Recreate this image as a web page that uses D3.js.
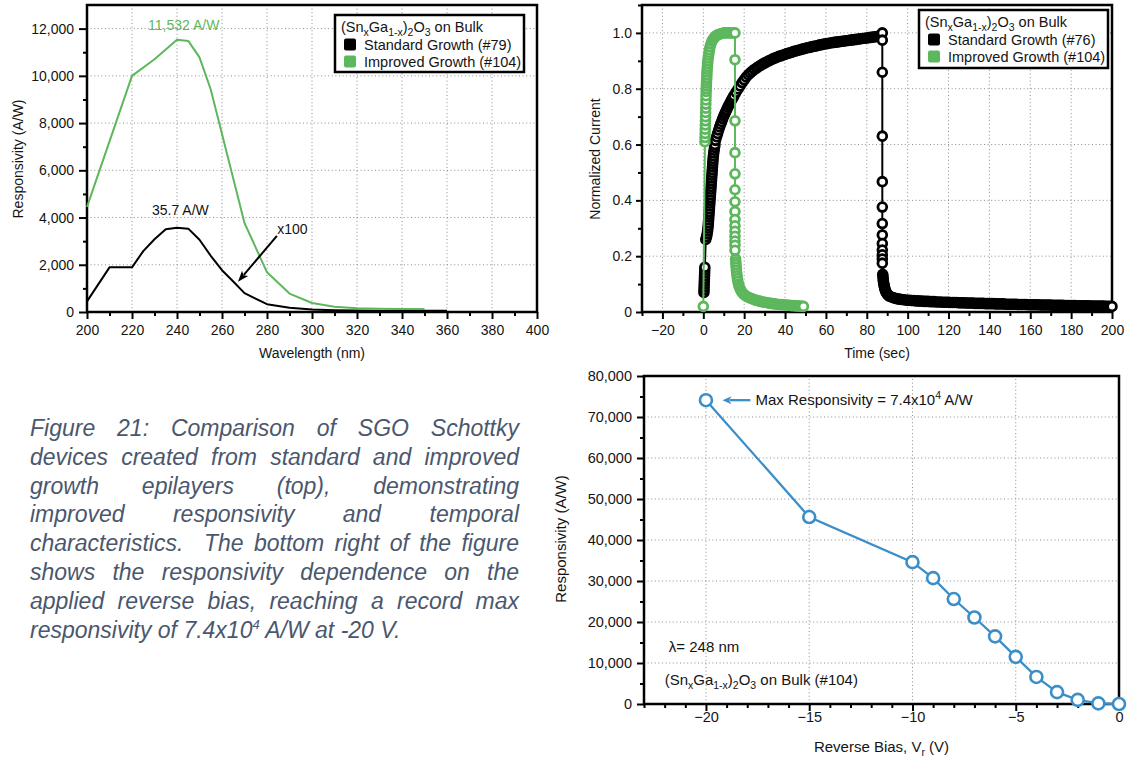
<!DOCTYPE html>
<html><head><meta charset="utf-8">
<script src="https://cdn.jsdelivr.net/npm/d3@7"></script>
<style>
body{margin:0;background:#fff;}
#wrap{position:relative;width:1129px;height:759px;overflow:hidden;background:#fff;}
#wrap svg{position:absolute;left:0;top:0;}
#caption{position:absolute;left:30px;top:414px;width:489px;font-family:"Liberation Sans",Arial,Helvetica,sans-serif;font-style:italic;font-size:23px;line-height:28.8px;color:#4a576e;}
#caption div{text-align:justify;text-align-last:justify;}
#caption div.last{text-align-last:left;}
#caption sup{font-size:13px;line-height:0;vertical-align:9px;}
</style></head>
<body>
<div id="wrap">
<div id="caption">
<div>Figure 21: Comparison of SGO Schottky</div>
<div>devices created from standard and improved</div>
<div>growth epilayers (top), demonstrating</div>
<div>improved responsivity and temporal</div>
<div>characteristics.&nbsp; The bottom right of the figure</div>
<div>shows the responsivity dependence on the</div>
<div>applied reverse bias, reaching a record max</div>
<div class="last">responsivity of 7.4x10<sup>4</sup> A/W at -20 V.</div>
</div>
</div>
<script>
// ---------------- DATA ----------------
// Panel 1: spectral responsivity
const wavelengthStandard = [200,210,220,225,230,235,240,245,250,255,260,265,270,280,290,300,310,320,330,340,350,360];
const responsivityStandardX100 = [450,1890,1890,2580,3080,3500,3570,3530,3060,2380,1770,1290,800,330,180,110,75,60,55,50,50,50];
const wavelengthImproved = [200,220,230,240,245,250,255,270,280,290,300,310,320,330,340,350];
const responsivityImproved = [4450,10000,10700,11532,11480,10780,9420,3770,1680,780,380,220,160,140,130,130];
const wavelengthTicks = [200,220,240,260,280,300,320,340,360,380,400];
const responsivityTicks = [0,2000,4000,6000,8000,10000,12000];

// Panel 2: transient response  [time (s), normalized current]
const standardGrowth76 = [
[0.3,0.07],[0.35,0.08],[0.4,0.09],[0.45,0.10],[0.5,0.11],[0.55,0.12],[0.6,0.13],[0.65,0.14],[0.7,0.15],[0.75,0.16],
[1.2,0.26],[1.6,0.27],[1.9,0.28],[2.1,0.29],[2.25,0.30],[2.4,0.31],[2.5,0.32],[2.6,0.33],[2.7,0.34],[2.8,0.35],[2.9,0.36],[3.0,0.37],[3.1,0.38],[3.2,0.39],[3.3,0.40],[3.4,0.41],[3.5,0.42],[3.6,0.43],[3.7,0.44],[3.8,0.45],[3.9,0.46],[4.0,0.47],[4.1,0.48],[4.2,0.49],[4.3,0.50],[4.4,0.51],[4.5,0.52],[4.6,0.53],[4.7,0.54],[4.8,0.55],[4.95,0.56],[5.1,0.57],[5.3,0.58],[5.5,0.59],[5.7,0.60],
[6.0,0.615],[6.5,0.628],[7,0.64],[7.5,0.652],[8,0.663],[8.5,0.673],[9,0.683],[9.5,0.693],[10,0.702],[10.5,0.71],[11,0.718],[11.5,0.726],[12,0.734],[12.5,0.741],[13,0.748],[13.5,0.755],[14,0.762],[14.5,0.768],[15,0.775],[16,0.787],[17,0.799],[18,0.81],[19,0.822],[20,0.832],
[21,0.842],[22,0.85],[23,0.857],[24,0.863],[25,0.869],[26,0.874],[27,0.879],[28,0.884],[29,0.888],[30,0.892],[31,0.896],[32,0.9],[33,0.903],[34,0.907],[35,0.91],[36,0.913],[37,0.916],[38,0.918],[39,0.921],[40,0.923],
[41,0.926],[42,0.928],[43,0.93],[44,0.933],[45,0.935],[46,0.937],[47,0.939],[48,0.941],[49,0.943],[50,0.945],[51,0.947],[52,0.948],[53,0.95],[54,0.952],[55,0.953],[56,0.955],[57,0.957],[58,0.958],[59,0.96],[60,0.961],
[61,0.962],[62,0.964],[63,0.965],[64,0.966],[65,0.967],[66,0.968],[67,0.969],[68,0.97],[69,0.971],[70,0.972],[71,0.973],[72,0.974],[73,0.975],[74,0.976],[75,0.977],[76,0.978],[77,0.979],[78,0.98],[79,0.981],[80,0.982],
[81,0.983],[82,0.984],[83,0.985],[84,0.986],[85,0.987],[86,0.989],[87,0.992],
[87.6,1.0],[87.6,0.974],[87.6,0.859],[87.6,0.63],[87.6,0.467],[87.6,0.376],[87.6,0.317],[87.6,0.276],[87.6,0.245],[87.6,0.222],[87.6,0.205],[87.6,0.19],[87.6,0.175],
[87.8,0.135],[87.9,0.128],[88,0.12],[88.1,0.113],[88.2,0.106],[88.35,0.1],[88.5,0.094],[88.7,0.088],[88.9,0.082],[89.1,0.077],[89.4,0.072],[89.7,0.068],[90,0.064],[90.5,0.06],[91,0.057],[92,0.054],[93,0.051],[94,0.049],[95,0.047],[96,0.046],[97,0.045],[98,0.044],[99,0.043],
[100,0.042],[101,0.042],[102,0.041],[103,0.041],[104,0.040],[105,0.040],[106,0.039],[107,0.039],[108,0.038],[109,0.038],
[110,0.038],[111,0.037],[112,0.037],[113,0.037],[114,0.036],[115,0.036],[116,0.036],[117,0.035],[118,0.035],[119,0.035],
[120,0.035],[121,0.034],[122,0.034],[123,0.034],[124,0.034],[125,0.033],[126,0.033],[127,0.033],[128,0.033],[129,0.032],
[130,0.032],[131,0.032],[132,0.032],[133,0.031],[134,0.031],[135,0.031],[136,0.031],[137,0.031],[138,0.030],[139,0.030],
[140,0.030],[141,0.030],[142,0.030],[143,0.029],[144,0.029],[145,0.029],[146,0.029],[147,0.029],[148,0.028],[149,0.028],
[150,0.028],[151,0.028],[152,0.028],[153,0.028],[154,0.027],[155,0.027],[156,0.027],[157,0.027],[158,0.027],[159,0.026],
[160,0.026],[161,0.026],[162,0.026],[163,0.026],[164,0.026],[165,0.025],[166,0.025],[167,0.025],[168,0.025],[169,0.025],
[170,0.025],[171,0.024],[172,0.024],[173,0.024],[174,0.024],[175,0.024],[176,0.024],[177,0.023],[178,0.023],[179,0.023],
[180,0.023],[181,0.023],[182,0.023],[183,0.022],[184,0.022],[185,0.022],[186,0.022],[187,0.022],[188,0.022],[189,0.022],
[190,0.021],[191,0.021],[192,0.021],[193,0.021],[194,0.021],[195,0.021],[196,0.021],[197,0.020],[198,0.020],[199,0.020],[200,0.020]
];
const improvedGrowth104 = [
[0,0.02],[0.8,0.61],[0.85,0.625],[0.9,0.64],[0.95,0.655],[1.0,0.67],[1.05,0.685],[1.1,0.70],[1.15,0.715],[1.2,0.73],[1.25,0.745],[1.3,0.76],[1.35,0.775],[1.4,0.79],[1.45,0.80],[1.5,0.81],[1.55,0.82],[1.6,0.83],[1.7,0.84],[1.75,0.85],[1.8,0.86],[1.9,0.87],[2.0,0.88],[2.1,0.89],[2.25,0.90],[2.4,0.91],[2.6,0.92],[2.8,0.93],[3.0,0.94],[3.3,0.95],[3.7,0.96],[4.2,0.97],[4.6,0.975],[5.0,0.98],[5.6,0.985],[6.3,0.99],[7,0.993],[8,0.996],[9,0.998],[10,1.0],[11,1.0],[12,1.0],[13,1.0],[14,1.0],[15,1.0],
[15.5,1.0],[15.5,0.904],[15.5,0.685],[15.5,0.571],[15.5,0.495],[15.5,0.438],[15.5,0.395],[15.5,0.36],[15.5,0.331],[15.5,0.309],[15.5,0.289],[15.5,0.271],[15.5,0.254],[15.5,0.239],[15.5,0.221],
[15.8,0.19],[15.9,0.18],[16,0.17],[16.1,0.16],[16.2,0.15],[16.35,0.14],[16.5,0.13],[16.7,0.12],[16.9,0.11],[17.2,0.1],[17.5,0.092],[17.9,0.085],[18.3,0.078],[18.8,0.072],[19.4,0.067],[20,0.062],[21,0.057],[22,0.053],[23,0.05],[24,0.047],[25,0.044],[26,0.042],[27,0.04],[28,0.038],[29,0.036],[30,0.035],[31,0.034],[32,0.032],[33,0.031],[34,0.03],[35,0.029],[36,0.028],[37,0.027],[38,0.027],[39,0.026],[40,0.025],[41,0.025],[42,0.024],[43,0.023],[44,0.023],[45,0.022],[46,0.022],[47,0.021],[48,0.021],[49,0.02]
];
const timeTicks = [-20,0,20,40,60,80,100,120,140,160,180,200];
const currentTicks = [0,0.2,0.4,0.6,0.8,1.0];

// Panel 3: responsivity vs reverse bias
const reverseBias = [-20,-15,-10,-9,-8,-7,-6,-5,-4,-3,-2,-1,0];
const responsivityBias = [74100,45600,34600,30700,25600,21100,16500,11500,6600,2900,1000,150,0];
const biasTicks = [-20,-15,-10,-5,0];
const biasRespTicks = [0,10000,20000,30000,40000,50000,60000,70000,80000];

// ---------------- DRAWING ----------------
const FONT = '"Liberation Sans", Arial, Helvetica, sans-serif';
const GREEN = '#5db75d', BLUE = '#3b8ec7', INK = '#141414';
const svg = d3.select('#wrap').insert('svg','#caption').attr('width',1129).attr('height',759)
  .style('font-family',FONT);

// rich text with subscripts/superscripts: parts = [[text, 'sub'|'sup'|null], ...]
// the baseline is centred on y by an explicit 0.35em shift carried on the first tspan
function richText(t, parts, fsPx){
  if (typeof parts === 'string'){ t.attr('dy','0.35em').text(parts); return; }
  const base = 0.35*fsPx;
  let shift = 0;
  parts.forEach(([s,k],i)=>{
    const target = k==='sub'?4:(k==='sup'?-6:0);
    t.append('tspan').attr('dy',(i===0?base:0)+target-shift).style('font-size',k?'10.5px':null).text(s);
    shift = target;
  });
}
const sgo = [['(Sn'],['x','sub'],['Ga'],['1-x','sub'],[')'],['2','sub'],['O'],['3','sub']];

function drawPanel(c){
  const g = svg.append('g');
  const [x0,x1] = c.x.range(), [yb,yt] = c.y.range();
  const fs = c.fs || 14, tfs = c.titleFs || 14;
  const grid = g.append('g').attr('stroke','#8c8c8c').attr('stroke-width',1).attr('stroke-dasharray','1,2.6');
  grid.selectAll('.gx').data(c.xGrid).join('line').attr('x1',d=>c.x(d)).attr('x2',d=>c.x(d)).attr('y1',yb).attr('y2',yt);
  grid.selectAll('.gy').data(c.yGrid).join('line').attr('y1',d=>c.y(d)).attr('y2',d=>c.y(d)).attr('x1',x0).attr('x2',x1);
  const style = sel => { sel.select('.domain').remove();
    sel.selectAll('.tick line').attr('stroke','#000').attr('stroke-width',2);
    sel.selectAll('.tick text').attr('fill',INK).style('font-size',fs+'px').style('font-family',FONT); };
  g.append('g').attr('transform',`translate(0,${yb})`).call(d3.axisBottom(c.x).tickValues(c.xMinor).tickSize(4).tickFormat('')).call(style);
  g.append('g').attr('transform',`translate(0,${yb})`).call(d3.axisBottom(c.x).tickValues(c.xMajor).tickSize(7).tickPadding(c.xPad).tickFormat(c.xFmt)).call(style);
  g.append('g').attr('transform',`translate(${x0},0)`).call(d3.axisLeft(c.y).tickValues(c.yMinor).tickSize(4).tickFormat('')).call(style);
  g.append('g').attr('transform',`translate(${x0},0)`).call(d3.axisLeft(c.y).tickValues(c.yMajor).tickSize(c.yTick).tickPadding(c.yPad).tickFormat(c.yFmt)).call(style);
  g.append('rect').attr('x',x0).attr('y',yt).attr('width',x1-x0).attr('height',yb-yt)
    .attr('fill','none').attr('stroke','#000').attr('stroke-width',2.5);
  g.append('text').attr('x',(x0+x1)/2).attr('y',c.xTitleY).attr('text-anchor','middle')
    .attr('fill',INK).style('font-size',tfs+'px').call(t=>richText(t,c.xTitle,tfs));
  g.append('text').attr('transform',`translate(${c.yTitleX},${c.yTitleCY}) rotate(-90)`).attr('dy','0.35em').attr('text-anchor','middle')
    .attr('fill',INK).style('font-size',tfs+'px').text(c.yTitle);
  return g;
}

function legend(g, x, y, w, h, rows){
  g.append('rect').attr('x',x).attr('y',y).attr('width',w).attr('height',h).attr('fill','#fff').attr('stroke','#000').attr('stroke-width',2.5);
  g.append('text').attr('x',x+6).attr('y',y+12).attr('fill',INK).style('font-size','14.5px')
    .call(t=>richText(t,[...sgo,[' on Bulk']],14.5));
  rows.forEach((r,i)=>{
    const cy = y+29.5+i*17;
    g.append('rect').attr('x',x+9).attr('y',cy-6).attr('width',12).attr('height',12).attr('rx',2).attr('fill',r.color);
    g.append('text').attr('x',x+29).attr('y',cy).attr('dy','0.35em').attr('fill',INK).style('font-size','14.5px').text(r.label);
  });
}

function arrow(g, x1,y1,x2,y2,color,len,wid,sw){
  const a = Math.atan2(y2-y1,x2-x1), ux=Math.cos(a), uy=Math.sin(a);
  const bx = x2-ux*len, by = y2-uy*len;
  g.append('line').attr('x1',x1).attr('y1',y1).attr('x2',bx+ux*2).attr('y2',by+uy*2).attr('stroke',color).attr('stroke-width',sw);
  g.append('path').attr('d',`M${x2},${y2}L${bx-uy*wid/2},${by+ux*wid/2}L${bx+ux*2.5},${by+uy*2.5}L${bx+uy*wid/2},${by-ux*wid/2}Z`).attr('fill',color);
}

const range = (a,b,s)=>d3.range(a,b+s/2,s);

// ---------- Panel 1 ----------
{
  const x = d3.scaleLinear([200,400],[87,537]);
  const y = d3.scaleLinear([0,13000],[312,5]);
  const g = drawPanel({x,y,xGrid:wavelengthTicks.slice(1,-1),yGrid:responsivityTicks.slice(1),
    xMajor:wavelengthTicks,xMinor:range(210,390,20),yMajor:responsivityTicks,yMinor:range(1000,11000,2000),
    xFmt:d3.format('d'),yFmt:d3.format(','),xPad:6,yTick:8,yPad:5,
    xTitle:'Wavelength (nm)',xTitleY:353,yTitle:'Responsivity (A/W)',yTitleX:18,yTitleCY:159});
  const line = d3.line().x(d=>x(d[0])).y(d=>y(d[1]));
  g.append('path').datum(d3.zip(wavelengthStandard,responsivityStandardX100)).attr('d',line)
    .attr('fill','none').attr('stroke','#000').attr('stroke-width',2).attr('stroke-linejoin','round');
  g.append('path').datum(d3.zip(wavelengthImproved,responsivityImproved)).attr('d',line)
    .attr('fill','none').attr('stroke',GREEN).attr('stroke-width',2).attr('stroke-linejoin','round');
  g.append('text').attr('x',x(243)).attr('y',y(12130)).attr('dy','0.35em').attr('text-anchor','middle')
    .attr('fill',GREEN).style('font-size','14px').text('11,532 A/W');
  g.append('text').attr('x',x(241.5)).attr('y',y(4320)).attr('dy','0.35em').attr('text-anchor','middle')
    .attr('fill',INK).style('font-size','14px').text('35.7 A/W');
  g.append('text').attr('x',x(284.5)).attr('y',y(3500)).attr('dy','0.35em')
    .attr('fill',INK).style('font-size','14px').text('x100');
  arrow(g, x(284.4),y(3220), x(267.1),y(1283), '#000', 11, 8, 2);
  legend(g, 335, 15, 189, 57, [{color:'#000',label:'Standard Growth (#79)'},{color:GREEN,label:'Improved Growth (#104)'}]);
}

// ---------- Panel 2 ----------
{
  const x = d3.scaleLinear([-30,200],[642,1112]);
  const y = d3.scaleLinear([0,1.1],[312,5]);
  const g = drawPanel({x,y,xGrid:timeTicks.slice(0,-1),yGrid:currentTicks.slice(1),
    xMajor:timeTicks,xMinor:range(-30,190,20),yMajor:currentTicks,yMinor:[0.1,0.3,0.5,0.7,0.9,1.1],
    xFmt:d3.format('d'),yFmt:d=>d===0?'0':d3.format('.1f')(d),xPad:6,yTick:6,yPad:4,
    xTitle:'Time (sec)',xTitleY:353,yTitle:'Normalized Current',yTitleX:595,yTitleCY:159});
  const line = d3.line().x(d=>x(d[0])).y(d=>y(d[1]));
  [[standardGrowth76,'#000'],[improvedGrowth104,GREEN]].forEach(([data,col])=>{
    const s = g.append('g');
    s.append('path').datum(data).attr('d',line).attr('fill','none').attr('stroke',col).attr('stroke-width',2);
    s.selectAll('circle').data(data).join('circle').attr('cx',d=>x(d[0])).attr('cy',d=>y(d[1])).attr('r',4.4)
      .attr('fill','#fff').attr('stroke',col).attr('stroke-width',2.8);
  });
  legend(g, 919, 10, 189, 58, [{color:'#000',label:'Standard Growth (#76)'},{color:GREEN,label:'Improved Growth (#104)'}]);
}

// ---------- Panel 3 ----------
{
  const x = d3.scaleLinear([-23,0],[644,1119]);
  const y = d3.scaleLinear([0,80000],[704,376]);
  const g = drawPanel({x,y,xGrid:biasTicks.slice(0,-1),yGrid:biasRespTicks.slice(1,-1),
    xMajor:biasTicks,xMinor:range(-23,-1,1).filter(v=>v%5!==0),yMajor:biasRespTicks,yMinor:range(5000,75000,10000),
    xFmt:d3.format('d'),yFmt:d3.format(','),xPad:1,yTick:7,yPad:5,fs:14.5,titleFs:15,
    xTitle:[['Reverse Bias, V'],['r','sub'],[' (V)']],xTitleY:747,yTitle:'Responsivity (A/W)',yTitleX:561,yTitleCY:539});
  const data = d3.zip(reverseBias,responsivityBias);
  g.append('path').datum(data).attr('d',d3.line().x(d=>x(d[0])).y(d=>y(d[1])))
    .attr('fill','none').attr('stroke',BLUE).attr('stroke-width',2.3);
  g.selectAll('circle.pt').data(data).join('circle').attr('cx',d=>x(d[0])).attr('cy',d=>y(d[1])).attr('r',6)
    .attr('fill','#fff').attr('stroke',BLUE).attr('stroke-width',2.6);
  arrow(g, x(-17.85),y(74100), x(-19.2),y(74100), BLUE, 9, 8, 2.3);
  g.append('text').attr('x',x(-17.6)).attr('y',y(74100)).attr('fill',INK).style('font-size','15px')
    .call(t=>richText(t,[['Max Responsivity = 7.4x10'],['4','sup'],[' A/W']],15));
  g.append('text').attr('x',x(-21.8)).attr('y',y(13900)).attr('dy','0.35em').attr('fill',INK).style('font-size','15px').text('λ= 248 nm');
  g.append('text').attr('x',x(-22)).attr('y',y(5850)).attr('fill',INK).style('font-size','15px')
    .call(t=>richText(t,[...sgo,[' on Bulk (#104)']],15));
}
</script>
</body></html>
